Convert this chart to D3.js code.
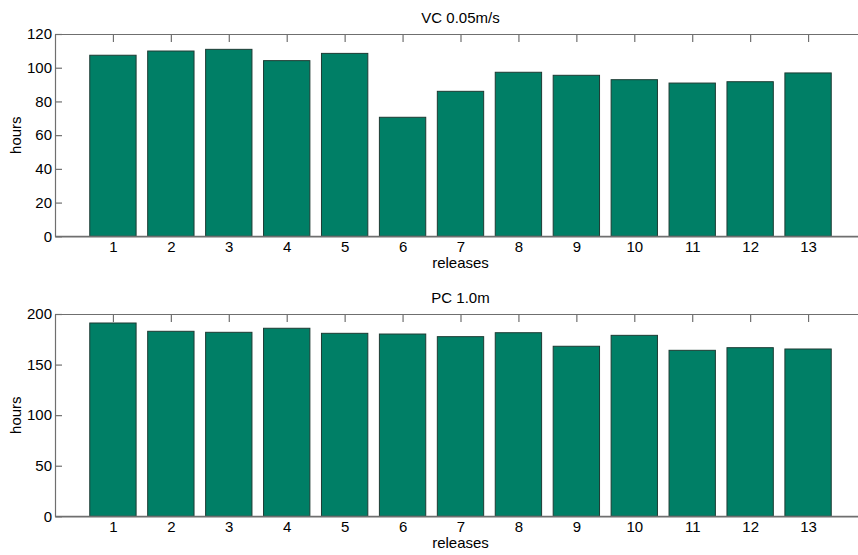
<!DOCTYPE html>
<html>
<head>
<meta charset="utf-8">
<script src="https://cdn.jsdelivr.net/npm/d3@7"></script>
<style>
  html, body { margin: 0; padding: 0; background: #fff; }
  svg { display: block; }
  text { font-family: "Liberation Sans", Arial, sans-serif; fill: #000; }
</style>
</head>
<body>
<svg id="chart" width="858" height="555"></svg>
<script>
const releases = [1, 2, 3, 4, 5, 6, 7, 8, 9, 10, 11, 12, 13];
const vcHours = [107.4, 109.9, 110.9, 104.2, 108.5, 70.6, 86.0, 97.3, 95.5, 92.9, 90.9, 91.7, 96.9];
const pcHours = [191.1, 182.9, 181.9, 185.9, 180.9, 180.2, 177.6, 181.5, 168.1, 178.9, 164.1, 166.7, 165.4];
const vcTicks = [0, 20, 40, 60, 80, 100, 120];
const pcTicks = [0, 50, 100, 150, 200];
const titles = ["VC 0.05m/s", "PC 1.0m"];
const xLabel = "releases";
const yLabel = "hours";

const svg = d3.select("#chart");
const left = 55, right = 866;
const barColor = "#007f66", barStroke = "#1d3b33", axisColor = "#6f6f6f";
const fontSize = 15;

function panel(top, bottom, values, ticks, title) {
  const g = svg.append("g");
  const x = d3.scaleLinear().domain([0, 14]).range([left, right]);
  const y = d3.scaleLinear().domain([0, d3.max(ticks)]).range([bottom, top]);
  const tickLen = 8;

  const xAxisB = d3.axisBottom(x).tickValues(releases).tickSizeInner(-tickLen).tickSizeOuter(0).tickPadding(5.5);
  const gxb = g.append("g").attr("transform", `translate(0,${bottom})`).call(xAxisB);
  const xAxisT = d3.axisTop(x).tickValues(releases).tickSizeInner(-tickLen).tickSizeOuter(0).tickFormat("");
  const gxt = g.append("g").attr("transform", `translate(0,${top})`).call(xAxisT);
  const yAxisL = d3.axisLeft(y).tickValues(ticks).tickSizeInner(-7).tickSizeOuter(0).tickPadding(3);
  const gyl = g.append("g").attr("transform", `translate(${left},0)`).call(yAxisL);
  const yAxisR = d3.axisRight(y).tickValues(ticks).tickSizeInner(-tickLen).tickSizeOuter(0).tickFormat("");
  const gyr = g.append("g").attr("transform", `translate(${right},0)`).call(yAxisR);

  [gxb, gxt, gyl, gyr].forEach(a => {
    a.selectAll("path").attr("stroke", axisColor).attr("stroke-width", 1.2);
    a.selectAll("line").attr("stroke", axisColor).attr("stroke-width", 1.2);
    a.selectAll("text").style("font-size", fontSize + "px").style("font-family", '"Liberation Sans", Arial, sans-serif').attr("fill", "#000");
  });
  gxb.selectAll("text").attr("dy", "0.71em");

  const bw = 0.8;
  g.append("g").selectAll("rect").data(values).join("rect")
    .attr("x", (d, i) => x(releases[i] - bw / 2))
    .attr("width", x(bw) - x(0))
    .attr("y", d => y(d))
    .attr("height", d => y(0) - y(d))
    .attr("fill", barColor)
    .attr("stroke", barStroke)
    .attr("stroke-width", 1);

  g.append("line").attr("x1", left).attr("x2", right).attr("y1", bottom).attr("y2", bottom)
    .attr("stroke", axisColor).attr("stroke-width", 1.2);

  g.append("text").attr("x", (left + right) / 2).attr("y", top - 10.7)
    .attr("text-anchor", "middle").style("font-size", fontSize + "px").text(title);
  g.append("text").attr("x", (left + right) / 2).attr("y", bottom + 32)
    .attr("text-anchor", "middle").style("font-size", fontSize + "px").text(xLabel);
  g.append("text").attr("transform", `translate(20.5,${(top + bottom) / 2}) rotate(-90)`)
    .attr("text-anchor", "middle").style("font-size", fontSize + "px").text(yLabel);
}

panel(34, 236.3, vcHours, vcTicks, titles[0]);
panel(314, 516.3, pcHours, pcTicks, titles[1]);
</script>
</body>
</html>
